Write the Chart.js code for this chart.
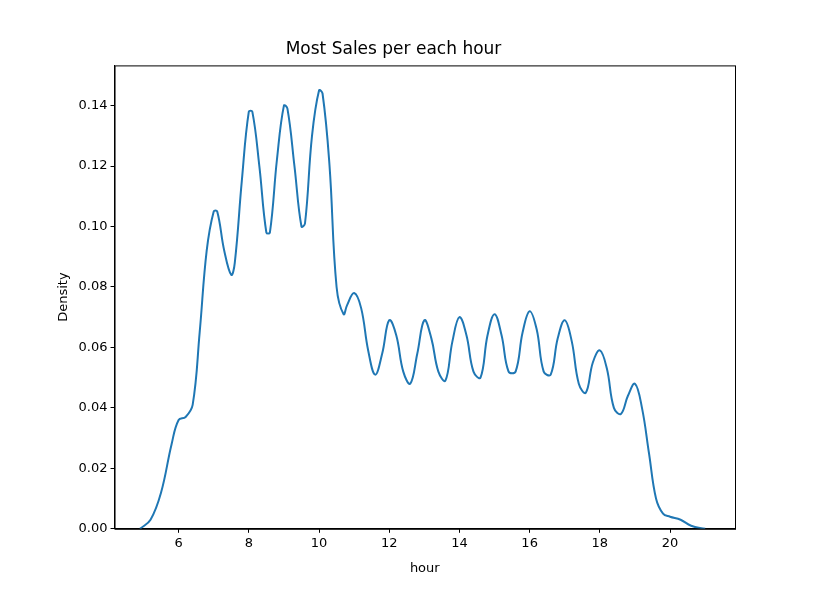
<!DOCTYPE html><html><head><script src="https://cdn.jsdelivr.net/npm/chart.js"></script>
<style>html,body{margin:0;background:#fff}#w{width:815px;height:608px}</style></head><body><div id="w"><canvas id="c"></canvas></div>
<script>
const hours=[4.9,5.2,5.5,5.8,6.0,6.2,6.4,6.6,6.8,7.0,7.1,7.3,7.5,7.6,7.8,8.0,8.1,8.3,8.5,8.6,8.8,9.0,9.1,9.3,9.5,9.6,9.8,10.0,10.1,10.3,10.5,10.7,10.8,11.0,11.2,11.4,11.6,11.8,12.0,12.2,12.4,12.6,12.8,13.0,13.2,13.4,13.6,13.8,14.0,14.2,14.4,14.6,14.8,15.0,15.2,15.4,15.6,15.8,16.0,16.2,16.4,16.6,16.8,17.0,17.2,17.4,17.6,17.8,18.0,18.2,18.4,18.6,18.8,19.0,19.2,19.4,19.6,19.8,20.0,20.3,20.6,21.0];
const density=[0,0.003,0.012,0.028,0.036,0.037,0.041,0.065,0.092,0.105,0.105,0.092,0.084,0.088,0.115,0.138,0.138,0.12,0.098,0.098,0.122,0.14,0.139,0.12,0.1,0.101,0.13,0.145,0.144,0.12,0.08,0.071,0.074,0.078,0.073,0.059,0.051,0.058,0.069,0.064,0.052,0.048,0.058,0.069,0.063,0.052,0.049,0.062,0.07,0.064,0.052,0.05,0.064,0.071,0.064,0.052,0.052,0.065,0.072,0.066,0.052,0.051,0.063,0.069,0.062,0.048,0.045,0.055,0.059,0.053,0.04,0.038,0.044,0.048,0.04,0.025,0.01,0.005,0.004,0.003,0.001,0];
const xTicks=[6,8,10,12,14,16,18,20];
Chart.defaults.font.family='DejaVu Sans';Chart.defaults.color='#000';
const frame={id:'frame',afterDraw(c){const a=c.chartArea,x=c.ctx;x.save();x.strokeStyle='#000';x.lineWidth=1;x.strokeRect(a.left+0.5,a.top+0.5,a.right-a.left,a.bottom-a.top);x.restore();}};
const g={drawOnChartArea:false,drawTicks:true,tickLength:4,color:'#000'};
new Chart(document.getElementById('c'),{type:'line',data:{datasets:[{data:hours.map((h,i)=>({x:h,y:density[i]})),borderColor:'#1f77b4',borderWidth:2,pointRadius:0,tension:0.4}]},
options:{responsive:true,maintainAspectRatio:false,animation:false,layout:{padding:{left:52,right:80,top:10,bottom:32}},
plugins:{legend:{display:false},tooltip:{enabled:false},title:{display:true,text:'Most Sales per each hour',font:{size:17,weight:'normal'},padding:{top:29,bottom:6}}},
scales:{x:{type:'linear',min:4.175,max:21.85,grid:g,border:{color:'#000'},afterBuildTicks(s){s.ticks=xTicks.map(v=>({value:v}))},ticks:{font:{size:13},maxRotation:0,callback:v=>v},title:{display:true,text:'hour',font:{size:13},padding:{top:6,bottom:0}}},
y:{min:0,max:0.1533,grid:g,border:{color:'#000'},afterBuildTicks(s){s.ticks=[0,0.02,0.04,0.06,0.08,0.1,0.12,0.14].map(v=>({value:v}))},ticks:{font:{size:13},callback:v=>v.toFixed(2)},title:{display:true,text:'Density',font:{size:13},padding:4}}}},plugins:[frame]});
</script></body></html>
